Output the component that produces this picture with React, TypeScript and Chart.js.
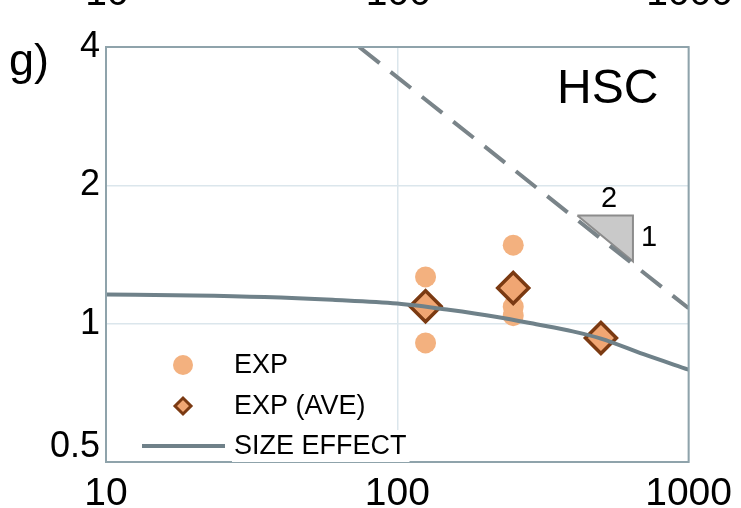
import React, { useEffect, useRef } from "react";
import { Chart, registerables } from "chart.js";
Chart.register(...registerables);

const FONT = '"Liberation Sans", Arial, sans-serif';

const xTicks = [10, 100, 1000];
const yTicks = [0.5, 1, 2, 4];

const expX = [125, 125, 250, 250, 250, 500];
const expY = [1.264, 0.908, 1.482, 1.089, 1.041, 0.931];

const aveX = [125, 250, 500];
const aveY = [1.091, 1.196, 0.931];

const sizeX = [10, 20, 35, 60, 100, 150, 220, 300, 400, 500, 700, 1000];
const sizeY = [1.157, 1.152, 1.143, 1.127, 1.106, 1.072, 1.034, 0.997, 0.962, 0.928, 0.858, 0.794];

const slopeX = [74, 1000];
const slopeY = [4, 1.08];

const triX = [415, 644, 644, 415];
const triY = [1.72, 1.72, 1.367, 1.72];

const legendLabels = ["EXP", "EXP (AVE)", "SIZE EFFECT"];
const panelLabel = "g)";
const seriesTitle = "HSC";
const slopeLabels = ["2", "1"];
const prevTickLabels = ["10", "100", "1000"];

const C_DOT = "#f3b17f";
const C_DIA_FILL = "#f0a673";
const C_DIA_EDGE = "#7b3a12";
const C_CURVE = "#6f8189";
const C_DASH = "#7a8489";
const C_GRID = "#dbe6ec";
const C_BORDER = "#8fa3ab";
const C_TEXT = "#000";

const pts = (xs: number[], ys: number[]) => xs.map((x, i) => ({ x, y: ys[i] }));

const overlayPlugin = {
  id: "overlay",
  afterDraw(chart: any) {
    const { ctx, chartArea: a, scales } = chart;
    const xs = scales.x;
    const ys = scales.y;
    ctx.save();
    // frame
    ctx.strokeStyle = C_BORDER;
    ctx.lineWidth = 2;
    ctx.strokeRect(a.left, a.top, a.right - a.left, a.bottom - a.top);

    // slope labels
    ctx.fillStyle = C_TEXT;
    ctx.font = `29px ${FONT}`;
    ctx.textAlign = "center";
    ctx.textBaseline = "middle";
    const tl = xs.getPixelForValue(triX[0]);
    const tr = xs.getPixelForValue(triX[1]);
    const tt = ys.getPixelForValue(triY[0]);
    const tb = ys.getPixelForValue(triY[2]);
    ctx.fillText(slopeLabels[0], (tl + tr) / 2 + 4, tt - 16);
    ctx.fillText(slopeLabels[1], tr + 16, (tt + tb) / 2);

    // HSC
    ctx.font = `48px ${FONT}`;
    ctx.textAlign = "left";
    ctx.textBaseline = "alphabetic";
    ctx.fillText(seriesTitle, 557, 103);

    // panel label
    ctx.font = `45px ${FONT}`;
    ctx.fillText(panelLabel, 9, 75);

    // cropped labels from the panel above
    ctx.font = `39px ${FONT}`;
    ctx.textAlign = "center";
    prevTickLabels.forEach((t, i) => {
      ctx.fillText(t, xs.getPixelForValue(xTicks[i]) + 1, 5);
    });

    // legend
    ctx.font = `27px ${FONT}`;
    ctx.textAlign = "left";
    ctx.textBaseline = "middle";
    const rowsY = [365, 406, 446];
    const tx = 234;
    legendLabels.forEach((lab, i) => {
      const w = ctx.measureText(lab).width;
      ctx.fillStyle = "#fff";
      ctx.fillRect(tx - 2, rowsY[i] - 16, w + 5, 32);
      ctx.fillStyle = C_TEXT;
      ctx.fillText(lab, tx, rowsY[i] + 1);
    });
    const mx = 183;
    ctx.fillStyle = C_DOT;
    ctx.beginPath();
    ctx.arc(mx, rowsY[0], 10, 0, Math.PI * 2);
    ctx.fill();
    ctx.beginPath();
    const h = 8;
    ctx.moveTo(mx - h, rowsY[1]);
    ctx.lineTo(mx, rowsY[1] - h);
    ctx.lineTo(mx + h, rowsY[1]);
    ctx.lineTo(mx, rowsY[1] + h);
    ctx.closePath();
    ctx.fillStyle = C_DIA_FILL;
    ctx.fill();
    ctx.strokeStyle = C_DIA_EDGE;
    ctx.lineWidth = 3;
    ctx.stroke();
    ctx.beginPath();
    ctx.moveTo(142, rowsY[2]);
    ctx.lineTo(225, rowsY[2]);
    ctx.strokeStyle = C_CURVE;
    ctx.lineWidth = 4;
    ctx.stroke();
    ctx.restore();
  },
};

export default function App() {
  const ref = useRef<HTMLCanvasElement>(null);
  useEffect(() => {
    if (!ref.current) return;
    const chart = new Chart(ref.current, {
      type: "scatter",
      data: {
        datasets: [
          {
            label: "SIZE EFFECT",
            data: pts(sizeX, sizeY),
            showLine: true,
            borderColor: C_CURVE,
            borderWidth: 4,
            pointRadius: 0,
            cubicInterpolationMode: "monotone",
            order: 0,
          } as any,
          {
            label: "slope",
            data: pts(slopeX, slopeY),
            showLine: true,
            borderColor: C_DASH,
            borderWidth: 4,
            borderDash: [26, 14],
            pointRadius: 0,
            order: 1,
          },
          {
            label: "triangle",
            data: pts(triX, triY),
            showLine: true,
            borderColor: "#8c8c8c",
            backgroundColor: "#c9c9c9",
            borderWidth: 2,
            fill: "shape",
            pointRadius: 0,
            order: 2,
          } as any,
          {
            label: "EXP (AVE)",
            data: pts(aveX, aveY),
            pointStyle: "rectRot",
            pointRadius: 15.5,
            pointBackgroundColor: C_DIA_FILL,
            pointBorderColor: C_DIA_EDGE,
            pointBorderWidth: 3.5,
            order: 3,
          },
          {
            label: "EXP",
            data: pts(expX, expY),
            pointRadius: 10.5,
            pointBackgroundColor: C_DOT,
            pointBorderWidth: 0,
            pointBorderColor: C_DOT,
            order: 4,
          },
        ],
      },
      options: {
        animation: false,
        responsive: true,
        maintainAspectRatio: false,
        layout: { padding: { top: 47, right: 50, left: 0, bottom: 0 } },
        plugins: { legend: { display: false }, tooltip: { enabled: false } },
        scales: {
          x: {
            type: "logarithmic",
            min: 10,
            max: 1000,
            afterBuildTicks: (s: any) => {
              s.ticks = xTicks.map((v) => ({ value: v }));
            },
            afterFit: (s: any) => {
              s.height = 46;
            },
            grid: { color: C_GRID, lineWidth: 1.5, drawTicks: false },
            border: { display: false },
            ticks: {
              autoSkip: false,
              maxRotation: 0,
              padding: 9,
              color: C_TEXT,
              font: { family: FONT, size: 39 },
              callback: (v: any) => String(v),
            },
          },
          y: {
            type: "logarithmic",
            min: 0.5,
            max: 4,
            afterBuildTicks: (s: any) => {
              s.ticks = yTicks.map((v) => ({ value: v }));
            },
            afterFit: (s: any) => {
              s.width = 106;
            },
            grid: { color: C_GRID, lineWidth: 1.5, drawTicks: false },
            border: { display: false },
            ticks: {
              autoSkip: false,
              padding: 6,
              color: C_TEXT,
              font: { family: FONT, size: 36, lineHeight: 0.84 },
              callback: (v: any) => (Number(v) === 0.5 ? ["0.5", ""] : String(v)),
            },
          },
        },
      } as any,
      plugins: [overlayPlugin],
    });
    return () => chart.destroy();
  }, []);
  return (
    <div style={{ position: "absolute", left: 0, top: 0, width: 741, height: 508, background: "#fff" }}>
      <canvas ref={ref} />
    </div>
  );
}
